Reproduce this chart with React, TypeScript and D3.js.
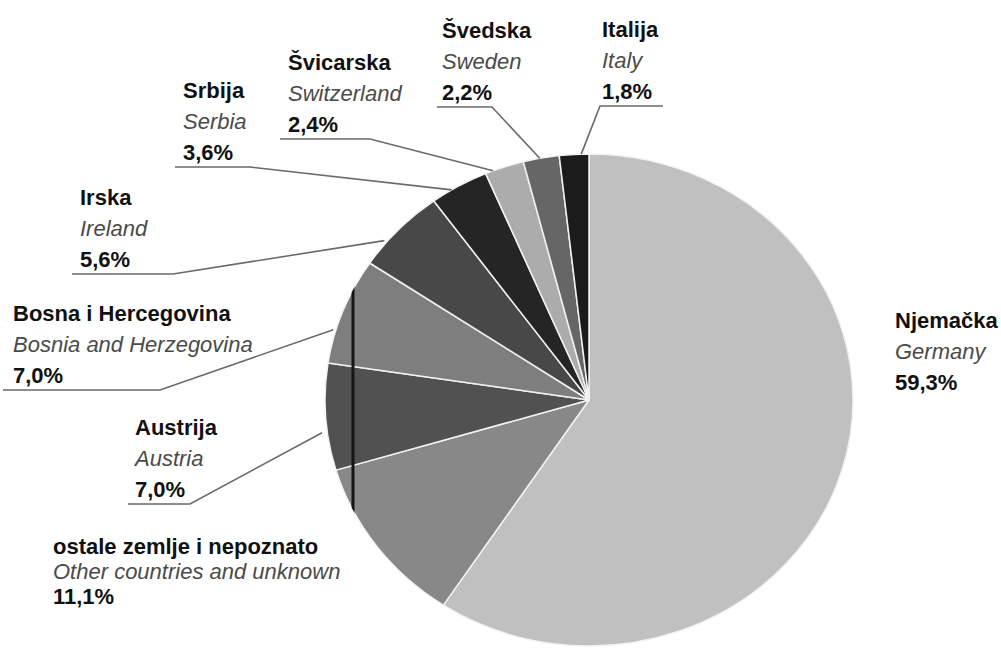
import React from "react";
import * as d3 from "d3";

// ---- data (clockwise from 12 o'clock) ----
const COUNTRY_HR = [
  "Njemačka",
  "ostale zemlje i nepoznato",
  "Austrija",
  "Bosna i Hercegovina",
  "Irska",
  "Srbija",
  "Švicarska",
  "Švedska",
  "Italija",
];
const COUNTRY_EN = [
  "Germany",
  "Other countries and unknown",
  "Austria",
  "Bosnia and Herzegovina",
  "Ireland",
  "Serbia",
  "Switzerland",
  "Sweden",
  "Italy",
];
const SHARES = [59.3, 11.1, 7.0, 7.0, 5.6, 3.6, 2.4, 2.2, 1.8];
const FILLS = [
  "#c0c0c0",
  "#888888",
  "#515151",
  "#7e7e7e",
  "#484848",
  "#252525",
  "#acacac",
  "#666666",
  "#1b1b1b",
];

// ---- layout ----
const W = 1001;
const H = 650;
const CX = 589;
const CY = 400;
const RX = 264;
const RY = 246;
const LINE = 31;
const SCAN_LINE_X = 353; // dark vertical scan streak across the left of the pie

type Lab = {
  x: number;
  y: number;
  lh?: number;
  ux0?: number;
  ux1?: number;
  from?: "left" | "right";
  t?: number;
  rr?: number;
};
const LABELS: Lab[] = [
  { x: 895, y: 328 },
  { x: 53, y: 554, lh: 25 },
  { x: 135, y: 435, ux0: 128, ux1: 190, from: "right", t: 0.36, rr: 1.02 },
  { x: 13, y: 321, ux0: 3, ux1: 160, from: "right", t: 0.31, rr: 1.01 },
  { x: 80, y: 205, ux0: 72, ux1: 173, from: "right", t: 0.3, rr: 1.01 },
  { x: 183, y: 98, ux0: 175, ux1: 250, from: "right", t: 0.36, rr: 1.0 },
  { x: 288, y: 70, ux0: 280, ux1: 370, from: "right", t: 0.2, rr: 1.0 },
  { x: 442, y: 38, ux0: 437, ux1: 492, from: "right", t: 0.46, rr: 1.0 },
  { x: 602, y: 37, ux0: 600, ux1: 663, from: "left", t: 0.74, rr: 1.0 },
];

const fmt = (v: number) => d3.format(".1f")(v).replace(".", ",") + "%";

export default function App() {
  const arcs = d3
    .pie<number>()
    .sort(null)
    .value((d) => d)
    .startAngle(0)
    .endAngle(2 * Math.PI)(SHARES);
  const arcGen = d3.arc<d3.PieArcDatum<number>>().innerRadius(0).outerRadius(RX);
  const edge = (a: number, rr: number): [number, number] => [
    CX + Math.sin(a) * RX * rr,
    CY - Math.cos(a) * RY * rr,
  ];
  const font = "'Liberation Sans', Arial, Helvetica, sans-serif";

  return (
    <svg
      width={W}
      height={H}
      viewBox={`0 0 ${W} ${H}`}
      style={{ position: "absolute", left: 0, top: 0, background: "#fff" }}
    >
      <defs>
        <clipPath id="pieclip">
          <ellipse cx={CX} cy={CY} rx={RX} ry={RY} />
        </clipPath>
      </defs>
      <g transform={`translate(${CX},${CY}) scale(1,${RY / RX})`}>
        {arcs.map((a, i) => (
          <path
            key={i}
            d={arcGen(a) || ""}
            fill={FILLS[i]}
            stroke="#f2f2f2"
            strokeWidth={1.5}
            vectorEffect="non-scaling-stroke"
            strokeLinejoin="round"
          />
        ))}
      </g>
      <line
        x1={SCAN_LINE_X}
        x2={SCAN_LINE_X}
        y1={CY - RY}
        y2={CY + RY}
        stroke="#151515"
        strokeWidth={3}
        clipPath="url(#pieclip)"
      />
      {LABELS.map((l, i) => {
        const a = arcs[i];
        const lh = l.lh ?? LINE;
        let leader: string | null = null;
        if (l.from && l.ux0 !== undefined && l.ux1 !== undefined) {
          const uy = l.y + 2 * lh + 7;
          const ang = a.startAngle + (a.endAngle - a.startAngle) * (l.t ?? 0.5);
          const [ex, ey] = edge(ang, l.rr ?? 1);
          const pts: [number, number][] =
            l.from === "right"
              ? [
                  [l.ux0, uy],
                  [l.ux1, uy],
                  [ex, ey],
                ]
              : [
                  [l.ux1, uy],
                  [l.ux0, uy],
                  [ex, ey],
                ];
          leader = d3.line()(pts);
        }
        return (
          <g key={i}>
            {leader && (
              <path d={leader} fill="none" stroke="#6a6a6a" strokeWidth={1.6} />
            )}
            <text
              x={l.x}
              y={l.y}
              fontFamily={font}
              fontSize={22}
              fontWeight="bold"
              fill="#111"
            >
              {COUNTRY_HR[i]}
            </text>
            <text
              x={l.x}
              y={l.y + lh}
              fontFamily={font}
              fontSize={22}
              fontStyle="italic"
              fill="#4a4a4a"
            >
              {COUNTRY_EN[i]}
            </text>
            <text
              x={l.x}
              y={l.y + 2 * lh}
              fontFamily={font}
              fontSize={22}
              fontWeight="bold"
              fill="#111"
            >
              {fmt(SHARES[i])}
            </text>
          </g>
        );
      })}
    </svg>
  );
}
